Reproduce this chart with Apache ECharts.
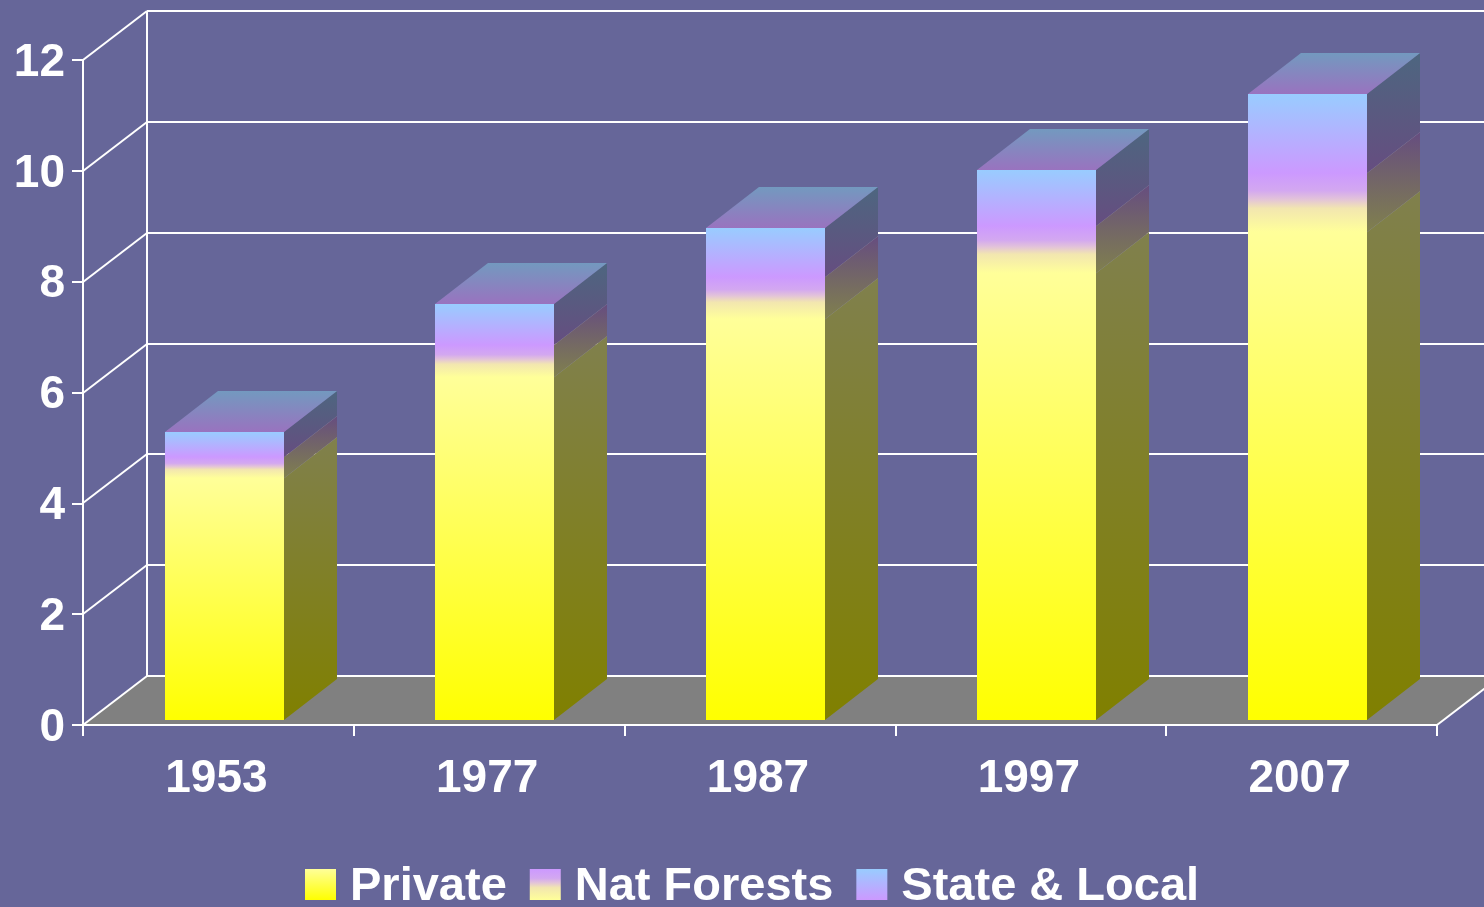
<!DOCTYPE html>
<html>
<head>
<meta charset="utf-8">
<style>html,body{margin:0;padding:0;background:#666699;overflow:hidden}#c{width:1484px;height:907px}</style>
<script src="https://cdn.jsdelivr.net/npm/echarts@6/dist/echarts.min.js"></script>
</head>
<body>
<div id="c"></div>
<script>
const years = ['1953', '1977', '1987', '1997', '2007'];
const privateValues = [4.37, 6.19, 7.24, 8.07, 8.81];
const natForests = [0.38, 0.58, 0.76, 0.85, 1.06];
const stateLocal = [0.45, 0.73, 0.88, 1.01, 1.43];
const yTicks = [0, 2, 4, 6, 8, 10, 12];

const FONT = '"Liberation Sans", Arial, sans-serif';
const WALL_DX = 64, WALL_DY = -49;     // oblique offset of the back wall
const BAR_DX = 53, BAR_DY = -41;       // oblique depth of a bar
const BAR_W = 119, BAR_SHIFT = 5.6, BAR_LIFT = -5;

const vg = (top, bottom) => new echarts.graphic.LinearGradient(0, 0, 0, 1, [
  {offset: 0, color: top}, {offset: 1, color: bottom}
]);
const natGradient = () => new echarts.graphic.LinearGradient(0, 0, 0, 1, [
  {offset: 0, color: '#cc99ff'},
  {offset: 0.3, color: '#d3a8f0'},
  {offset: 0.45, color: '#e3c4d8'},
  {offset: 0.6, color: '#f2e6b0'},
  {offset: 1, color: '#ffff99'}
]);

const YELLOW = '#ffff00', PALE = '#ffff99', PURPLE = '#cc99ff', BLUE = '#99ccff';
const D_YELLOW = '#808000', D_PALE = '#80804d', D_PURPLE = '#664d80', D_BLUE = '#4d6680';
const T_PURPLE = '#9973bf', T_BLUE = '#7399bf';

function cumulative(arrs, i) { return arrs.reduce((s, a) => s + a[i], 0); }

function barRenderer(lowerArrs, ownArr, frontFill, sideFill, withTop) {
  return function (params, api) {
    const i = api.value(0);
    const base = cumulative(lowerArrs, i);
    const top = base + ownArr[i];
    const pB = api.coord([i, base]);
    const pT = api.coord([i, top]);
    const x0 = Math.round(pB[0] + BAR_SHIFT - BAR_W / 2);
    const x1 = x0 + BAR_W;
    const yB = Math.round(pB[1] + BAR_LIFT);
    const yT = Math.round(pT[1] + BAR_LIFT);
    const children = [
      {type: 'polygon', shape: {points: [[x1, yB], [x1 + BAR_DX, yB + BAR_DY], [x1 + BAR_DX, yT + BAR_DY], [x1, yT]]},
       style: {fill: sideFill}},
      {type: 'rect', shape: {x: x0, y: yT, width: BAR_W, height: yB - yT}, style: {fill: frontFill}}
    ];
    if (withTop) {
      children.push({type: 'polygon', shape: {points: [[x0, yT], [x1, yT], [x1 + BAR_DX, yT + BAR_DY], [x0 + BAR_DX, yT + BAR_DY]]},
        style: {fill: vg(T_BLUE, T_PURPLE)}});
    } else {
      children.push({type: 'line', shape: {x1: x1, y1: yT, x2: x1 + BAR_DX, y2: yT + BAR_DY},
        style: {stroke: 'rgba(210,210,190,0.22)', lineWidth: 1}});
    }
    return {type: 'group', children};
  };
}

function wallRenderer(params, api) {
  const v = api.value(0);
  const p = api.coord([0, v]);
  const cs = params.coordSys;
  const line = (a, b, c, d) => ({type: 'line', shape: {x1: a, y1: b, x2: c, y2: d},
    style: {stroke: '#ffffff', lineWidth: 2}});
  const left = cs.x, right = cs.x + cs.width, y = Math.round(p[1]);
  const children = [];
  if (v === 0) {
    children.push({type: 'polygon', shape: {points: [[left, y], [left + WALL_DX, y + WALL_DY], [right + WALL_DX, y + WALL_DY], [right, y]]},
      style: {fill: '#808080'}});
    children.push(line(right, y, right + WALL_DX, y + WALL_DY));
  }
  if (v === yTicks[yTicks.length - 1]) {
    const y0 = Math.round(api.coord([0, 0])[1]);
    children.push(line(left + WALL_DX, y + WALL_DY, left + WALL_DX, y0 + WALL_DY));
  }
  children.push(line(left, y, left + WALL_DX, y + WALL_DY));
  children.push(line(left + WALL_DX, y + WALL_DY, right + WALL_DX, y + WALL_DY));
  return {type: 'group', children};
}

const idx = years.map((_, i) => [i]);

const chart = echarts.init(document.getElementById('c'), null, {renderer: 'canvas', width: 1484, height: 907});
chart.setOption({
  animation: false,
  backgroundColor: '#666699',
  textStyle: {fontFamily: FONT},
  grid: {left: 83, right: 47, top: 60, bottom: 182, containLabel: false},
  legend: {
    left: 305, top: 864, itemWidth: 31, itemHeight: 31, itemGap: 23, icon: 'rect', selectedMode: false,
    padding: 0,
    formatter: '{t|{name}}',
    textStyle: {
      color: '#fff', fontFamily: FONT, fontSize: 47, fontWeight: 'bold', padding: [6, 0, 0, 9],
      rich: {t: {color: '#fff', fontFamily: FONT, fontSize: 47, fontWeight: 'bold'}}
    },
    data: ['Private', 'Nat Forests', 'State & Local']
  },
  xAxis: {
    type: 'category', data: years, z: 5,
    axisLine: {lineStyle: {color: '#fff', width: 2}},
    axisTick: {show: true, length: 11, lineStyle: {color: '#fff', width: 2}, alignWithLabel: false},
    axisLabel: {color: '#fff', fontFamily: FONT, fontSize: 46, fontWeight: 'bold', margin: 31, padding: [0, 4, 0, 0]},
    splitLine: {show: false}
  },
  yAxis: {
    type: 'value', min: 0, max: 12, interval: 2, z: 5,
    axisLine: {show: true, lineStyle: {color: '#fff', width: 2}},
    axisTick: {show: true, length: 11, lineStyle: {color: '#fff', width: 2}},
    axisLabel: {color: '#fff', fontFamily: FONT, fontSize: 46, fontWeight: 'bold', margin: 18, verticalAlign: 'top', lineHeight: 6},
    splitLine: {show: false}
  },
  series: [
    {type: 'custom', name: 'walls', data: yTicks.map(v => [v]), renderItem: wallRenderer, encode: {y: 0}, z: 1, silent: true},
    {type: 'custom', name: 'Private', data: idx, encode: {x: 0}, z: 2, itemStyle: {color: vg(PALE, YELLOW)},
     renderItem: barRenderer([], privateValues, vg(PALE, YELLOW), vg(D_PALE, D_YELLOW), false)},
    {type: 'custom', name: 'Nat Forests', data: idx, encode: {x: 0}, z: 2, itemStyle: {color: natGradient()},
     renderItem: barRenderer([privateValues], natForests, natGradient(), vg(D_PURPLE, D_PALE), false)},
    {type: 'custom', name: 'State & Local', data: idx, encode: {x: 0}, z: 2, itemStyle: {color: vg(BLUE, PURPLE)},
     renderItem: barRenderer([privateValues, natForests], stateLocal, vg(BLUE, PURPLE), vg(D_BLUE, D_PURPLE), true)}
  ]
});
</script>
</body>
</html>
